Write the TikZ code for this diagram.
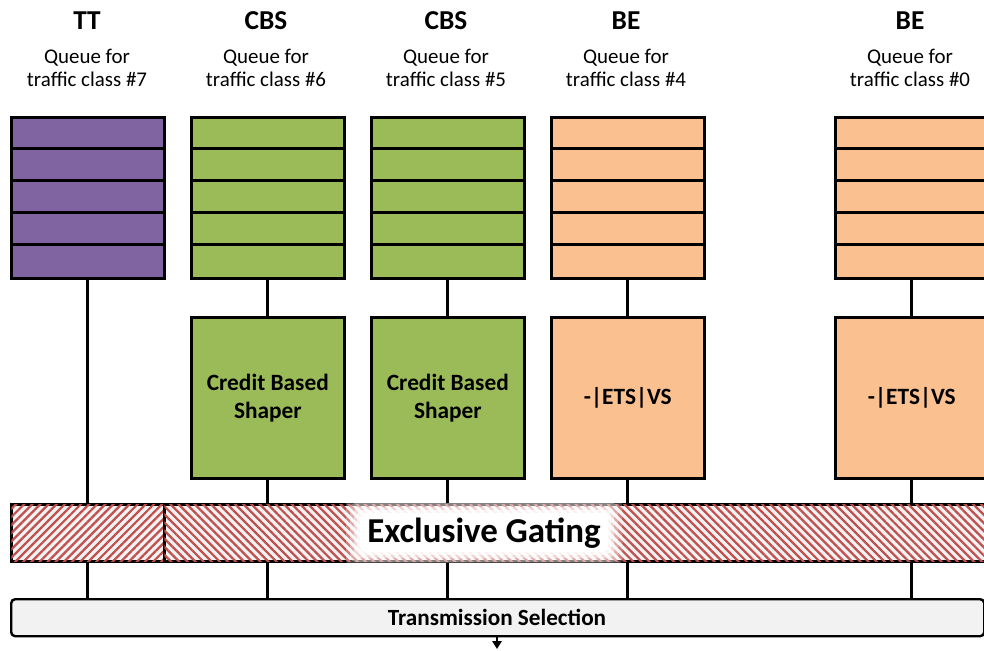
\documentclass[tikz,border=0pt]{standalone}
\usepackage{fontspec}
\setmainfont{Carlito}
\usetikzlibrary{patterns.meta,arrows.meta}
\definecolor{ttc}{HTML}{8064A2}
\definecolor{cbsc}{HTML}{9BBB59}
\definecolor{bec}{HTML}{FAC090}
\definecolor{hatchc}{HTML}{C0504D}
\definecolor{barc}{HTML}{F2F2F2}
\begin{document}
\begin{tikzpicture}[x=0.75pt,y=-0.75pt,
  qbox/.style={draw=black, line width=2pt, minimum width=114.75pt, minimum height=120.75pt, inner sep=0pt, anchor=north west},
  shbox/.style={qbox, align=center, font=\bfseries\fontsize{17.5}{21}\selectfont},
  rowline/.style={line width=2pt},
  conn/.style={line width=2.1pt},
  headtxt/.style={font=\bfseries\fontsize{20.5}{24}\selectfont, inner sep=0pt},
  qtxt/.style={align=center, font=\fontsize{15.7}{17.25}\selectfont, inner sep=0pt},
  gatebox/.style={draw=black, line width=2pt, minimum height=42.75pt, inner sep=0pt, anchor=north west, fill=barc,
    postaction={pattern={Lines[angle=#1,distance=4.3pt,line width=1.7pt]}, pattern color=hatchc}},
]
\clip (0,0) rectangle (984,650);
\fill[white] (0,0) rectangle (984,650);

% headers
\foreach \n/\x/\h/\c in {7/87/TT/7, 6/266/CBS/6, 5/446/CBS/5, 4/626/BE/4, 0/910/BE/0}{
  \node[headtxt] (h\n) at (\x,21) {\h};
  \node[qtxt] (l\n) at (\x,68) {Queue for\\traffic class \#\c};
}

% queues
\node[qbox, fill=ttc]  (q7) at (10,116) {};
\node[qbox, fill=cbsc] (q6) at (190,116) {};
\node[qbox, fill=cbsc] (q5) at (370,116) {};
\node[qbox, fill=bec]  (q4) at (550,116) {};
\node[qbox, fill=bec]  (q0) at (834,116) {};
\foreach \q in {q7,q6,q5,q4,q0}{
  \foreach \k in {1,...,4}{
    \draw[rowline] ([yshift=-\k*24.15pt]\q.north west) -- ([yshift=-\k*24.15pt]\q.north east);
  }
}

% shapers
\node[shbox, fill=cbsc] (s6) at (190,316) {Credit Based\\Shaper};
\node[shbox, fill=cbsc] (s5) at (370,316) {Credit Based\\Shaper};
\node[shbox, fill=bec]  (s4) at (550,316) {-|ETS|VS};
\node[shbox, fill=bec]  (s0) at (834,316) {-|ETS|VS};

% gating bar
\node[gatebox=45, minimum width=114.75pt] (gl) at (10,503) {};
\node[gatebox=-45, minimum width=630pt] (gr) at (163,503) {};
\foreach \p/\o in {14/0.25, 10/0.35, 6/0.5, 3/0.7, 0/1}{
  \fill[white, opacity=\o, rounded corners=4pt] (360-\p,513-\p) rectangle (608+\p,552+\p);
}
\node[font=\bfseries\fontsize{26.2}{30}\selectfont, inner sep=0pt] (gt) at (484,533) {Exclusive Gating};

% transmission selection
\node[draw=black, line width=1.8pt, fill=barc, rounded corners=3pt, minimum width=729.75pt, minimum height=27.75pt,
  inner sep=0pt, anchor=north west] (ts) at (10,598) {};
\node[font=\bfseries\fontsize{17.4}{20}\selectfont, inner sep=0pt] (tst) at (497,617) {Transmission Selection};
\coordinate (out) at (497,649);

% connectors
\draw[conn] (q7.south) -- (q7.south |- gl.north);
\foreach \i in {6,5,4,0}{
  \draw[conn] (q\i.south) -- (s\i.north);
  \draw[conn] (s\i.south) -- (s\i.south |- gr.north);
}
\foreach \i in {7,6,5,4,0}{
  \draw[conn] (q\i.south |- gr.south) -- (q\i.south |- ts.north);
}
\draw[line width=1.6pt, -{Triangle[length=6pt,width=7pt]}] (ts.south -| out) -- (out);
\end{tikzpicture}
\end{document}
